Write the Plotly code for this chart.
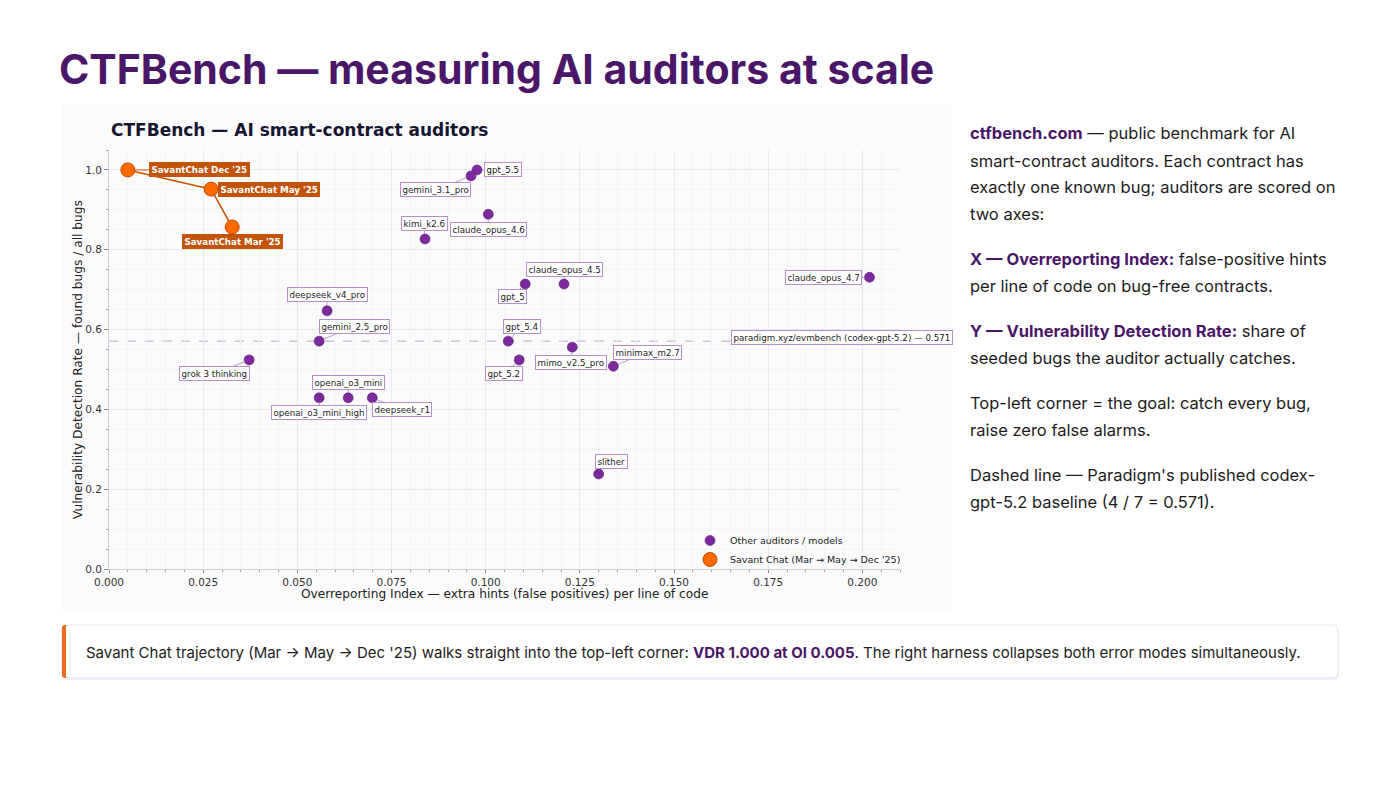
import plotly.graph_objects as go

# ---------------- data ----------------
auditor_names = ["gpt_5.5", "gemini_3.1_pro", "claude_opus_4.6", "kimi_k2.6", "claude_opus_4.7",
                 "claude_opus_4.5", "gpt_5", "deepseek_v4_pro", "gemini_2.5_pro", "gpt_5.4",
                 "mimo_v2.5_pro", "gpt_5.2", "minimax_m2.7", "grok 3 thinking",
                 "openai_o3_mini_high", "openai_o3_mini", "deepseek_r1", "slither"]
auditor_oi = [0.0977, 0.0961, 0.1007, 0.0839, 0.2019,
              0.1208, 0.1105, 0.0579, 0.0558, 0.1060,
              0.1230, 0.1089, 0.1339, 0.0372,
              0.0558, 0.0635, 0.0699, 0.1300]
auditor_vdr = [1.000, 0.985, 0.889, 0.827, 0.731,
               0.714, 0.714, 0.647, 0.571, 0.571,
               0.556, 0.524, 0.508, 0.524,
               0.429, 0.429, 0.429, 0.238]

savant_names = ["SavantChat Mar '25", "SavantChat May '25", "SavantChat Dec '25"]
savant_oi = [0.0327, 0.0271, 0.0050]
savant_vdr = [0.857, 0.952, 1.000]

baseline_vdr = 0.571
baseline_label = "paradigm.xyz/evmbench (codex-gpt-5.2) — 0.571"

x_ticks = [0.000, 0.025, 0.050, 0.075, 0.100, 0.125, 0.150, 0.175, 0.200]
y_ticks = [0.0, 0.2, 0.4, 0.6, 0.8, 1.0]

# ---------------- label placement (pixel offsets, style only) ----------------
label_offsets = {
    "gpt_5.5": (26, 0), "gemini_3.1_pro": (-35, 14), "claude_opus_4.6": (0, 15),
    "kimi_k2.6": (-1, -15), "claude_opus_4.7": (-46, 0), "claude_opus_4.5": (0, -15),
    "gpt_5": (-13, 12), "deepseek_v4_pro": (0, -16), "gemini_2.5_pro": (35, -15),
    "gpt_5.4": (14, -15), "mimo_v2.5_pro": (-1, 15), "gpt_5.2": (-15, 14),
    "minimax_m2.7": (34, -14), "grok 3 thinking": (-35, 14),
    "openai_o3_mini_high": (0, 15), "openai_o3_mini": (0, -15), "deepseek_r1": (30, 12),
    "slither": (13, -13),
}
savant_offsets = {"SavantChat Mar '25": (0, 14), "SavantChat May '25": (58, 0),
                  "SavantChat Dec '25": (72, 0)}

W, H = 1400, 788
def px(x): return x / W
def py(y): return 1 - y / H

PURPLE = "#7b2a9c"
ORANGE = "#ff6a00"
ORANGE_DARK = "#c2540a"
LABEL_BORDER = "#b58fcc"
CHART_FONT = "DejaVu Sans"
SLIDE_FONT = "Inter"
DEEP_PURPLE = "#4a1668"
LBL = 8.7

fig = go.Figure()

# savant trajectory line (no legend)
fig.add_trace(go.Scatter(x=savant_oi, y=savant_vdr, mode="lines",
                         line=dict(color="#cc5500", width=1.6),
                         showlegend=False, hoverinfo="skip"))
fig.add_trace(go.Scatter(x=auditor_oi, y=auditor_vdr, mode="markers",
                         name="Other auditors / models",
                         marker=dict(color=PURPLE, size=10, line=dict(color="#5e1f7a", width=0.6))))
fig.add_trace(go.Scatter(x=savant_oi, y=savant_vdr, mode="markers",
                         name="Savant Chat (Mar → May → Dec '25)",
                         marker=dict(color=ORANGE, size=14, line=dict(color="#c04a00", width=1))))

shapes = []
annotations = []

# chart image backdrop
shapes.append(dict(type="rect", xref="paper", yref="paper", x0=px(62), x1=px(952),
                   y0=py(612), y1=py(104), fillcolor="#fbfbfc", line=dict(width=0), layer="below"))

# baseline dashed line
shapes.append(dict(type="line", xref="x", yref="y", x0=0, x1=0.21, y0=baseline_vdr, y1=baseline_vdr,
                   line=dict(color="#a9b1c2", width=1, dash="dash"), layer="below"))

# auditor labels
for n, xv, yv in zip(auditor_names, auditor_oi, auditor_vdr):
    ax, ay = label_offsets[n]
    annotations.append(dict(x=xv, y=yv, xref="x", yref="y", text=n, showarrow=True,
                            arrowhead=0, arrowwidth=0.8, arrowcolor="#a98cbc", standoff=5,
                            ax=ax, ay=ay, font=dict(family=CHART_FONT, size=LBL, color="#222"),
                            bgcolor="white", bordercolor=LABEL_BORDER, borderwidth=1, borderpad=1.5))
for n, xv, yv in zip(savant_names, savant_oi, savant_vdr):
    ax, ay = savant_offsets[n]
    annotations.append(dict(x=xv, y=yv, xref="x", yref="y", text="<b>" + n + "</b>", showarrow=True,
                            arrowhead=0, arrowwidth=1, arrowcolor="#cc5500", standoff=6,
                            ax=ax, ay=ay, font=dict(family=CHART_FONT, size=LBL, color="white"),
                            bgcolor=ORANGE_DARK, bordercolor=ORANGE_DARK, borderwidth=1, borderpad=1.5))

# baseline label
annotations.append(dict(x=0.1652, y=baseline_vdr, xref="x", yref="y", text=baseline_label,
                        showarrow=False, xanchor="left", yanchor="middle", yshift=4,
                        font=dict(family=CHART_FONT, size=LBL, color="#222"),
                        bgcolor="white", bordercolor=LABEL_BORDER, borderwidth=1, borderpad=1.5))

# chart title & axis titles
annotations.append(dict(x=px(109), y=py(130), xref="paper", yref="paper", xanchor="left", yanchor="middle",
                        text="<b>CTFBench — AI smart-contract auditors</b>", showarrow=False,
                        font=dict(family=CHART_FONT, size=17, color="#161630")))
annotations.append(dict(x=px(504), y=py(594), xref="paper", yref="paper", xanchor="center", yanchor="middle",
                        text="Overreporting Index — extra hints (false positives) per line of code",
                        showarrow=False, font=dict(family=CHART_FONT, size=12.2, color="#222")))
annotations.append(dict(x=px(78), y=py(360), xref="paper", yref="paper", xanchor="center", yanchor="middle",
                        text="Vulnerability Detection Rate — found bugs / all bugs", textangle=-90,
                        showarrow=False, font=dict(family=CHART_FONT, size=12.2, color="#222")))

# slide title
annotations.append(dict(x=px(57), y=py(69), xref="paper", yref="paper", xanchor="left", yanchor="middle",
                        text="<b>CTFBench — measuring AI auditors at scale</b>", showarrow=False,
                        font=dict(family=SLIDE_FONT, size=41, color=DEEP_PURPLE)))

# right-hand text
def b(t): return f"<b><span style='color:{DEEP_PURPLE}'>{t}</span></b>"
right_lines = [
    (133, b("ctfbench.com") + " — public benchmark for AI"),
    (161, "smart-contract auditors. Each contract has"),
    (187, "exactly one known bug; auditors are scored on"),
    (214, "two axes:"),
    (259, b("X — Overreporting Index:") + " false-positive hints"),
    (286, "per line of code on bug-free contracts."),
    (331, b("Y — Vulnerability Detection Rate:") + " share of"),
    (358, "seeded bugs the auditor actually catches."),
    (403, "Top-left corner = the goal: catch every bug,"),
    (430, "raise zero false alarms."),
    (475, "Dashed line — Paradigm's published codex-"),
    (502, "gpt-5.2 baseline (4 / 7 = 0.571)."),
]
for yy, t in right_lines:
    annotations.append(dict(x=px(968), y=py(yy), xref="paper", yref="paper", xanchor="left",
                            yanchor="middle", text=t, showarrow=False,
                            font=dict(family=SLIDE_FONT, size=16.5, color="#1c1c1c")))

def path_paper(x0, y0, x1, y1, r):
    pts = lambda x, y: f"{px(x)},{py(y)}"
    return (f"M {pts(x0+r,y0)} L {pts(x1-r,y0)} Q {pts(x1,y0)} {pts(x1,y0+r)} L {pts(x1,y1-r)} "
            f"Q {pts(x1,y1)} {pts(x1-r,y1)} L {pts(x0+r,y1)} Q {pts(x0,y1)} {pts(x0,y1-r)} "
            f"L {pts(x0,y0+r)} Q {pts(x0,y0)} {pts(x0+r,y0)} Z")

# callout box with soft shadow and orange accent
shapes.append(dict(type="path", xref="paper", yref="paper", path=path_paper(62, 627, 1339, 680, 6),
                   fillcolor="#f1eef5", line=dict(width=0), layer="below"))
shapes.append(dict(type="path", xref="paper", yref="paper", path=path_paper(62, 625, 1338, 678, 6),
                   fillcolor="white", line=dict(color="#ece3f3", width=1), layer="below"))
shapes.append(dict(type="path", xref="paper", yref="paper", path=path_paper(62, 625, 68, 678, 3),
                   fillcolor="#f26b1d", line=dict(width=0), layer="below"))
shapes.append(dict(type="rect", xref="paper", yref="paper", x0=px(66), x1=px(70), y0=py(677), y1=py(626),
                   fillcolor="white", line=dict(width=0), layer="below"))

annotations.append(dict(x=px(84), y=py(652), xref="paper", yref="paper", xanchor="left", yanchor="middle",
                        showarrow=False,
                        text="Savant Chat trajectory (Mar → May → Dec '25) walks straight into the top-left corner: "
                             + b("VDR 1.000 at OI 0.005")
                             + ". The right harness collapses both error modes simultaneously.",
                        font=dict(family=SLIDE_FONT, size=15, color="#1c1c1c")))

fig.update_layout(
    width=W, height=H, margin=dict(l=0, r=0, t=0, b=0, autoexpand=False),
    paper_bgcolor="white", plot_bgcolor="white",
    shapes=shapes, annotations=annotations,
    legend=dict(x=px(690), y=py(526), xanchor="left", yanchor="top", bgcolor="rgba(0,0,0,0)",
                font=dict(family=CHART_FONT, size=9.5, color="#222"), tracegroupgap=0,
                itemsizing="trace"),
    showlegend=True,
)
fig.update_xaxes(domain=[px(109), px(900)], range=[0, 0.21], tickvals=x_ticks, automargin=False,
                 ticktext=[f"{v:.3f}" for v in x_ticks],
                 showgrid=True, gridcolor="#e6e9f1", gridwidth=1, zeroline=False,
                 showline=True, linecolor="#c8ccd6", linewidth=1,
                 ticks="outside", ticklen=3, tickcolor="#888",
                 tickfont=dict(family=CHART_FONT, size=10.5, color="#333"),
                 minor=dict(dtick=0.005, tick0=0, showgrid=True, gridcolor="#f3f4f8", ticks="outside",
                            ticklen=2, tickcolor="#999"))
fig.update_yaxes(domain=[py(569), py(150)], range=[0, 1.05], tickvals=y_ticks, automargin=False,
                 ticktext=[f"{v:.1f}" for v in y_ticks],
                 showgrid=True, gridcolor="#e6e9f1", gridwidth=1, zeroline=False,
                 showline=True, linecolor="#c8ccd6", linewidth=1,
                 ticks="outside", ticklen=4, tickcolor="#888",
                 tickfont=dict(family=CHART_FONT, size=10.5, color="#333"),
                 minor=dict(dtick=0.05, tick0=0, showgrid=True, gridcolor="#f3f4f8", ticks="outside",
                            ticklen=2, tickcolor="#999"))

fig.write_html("out.html")
